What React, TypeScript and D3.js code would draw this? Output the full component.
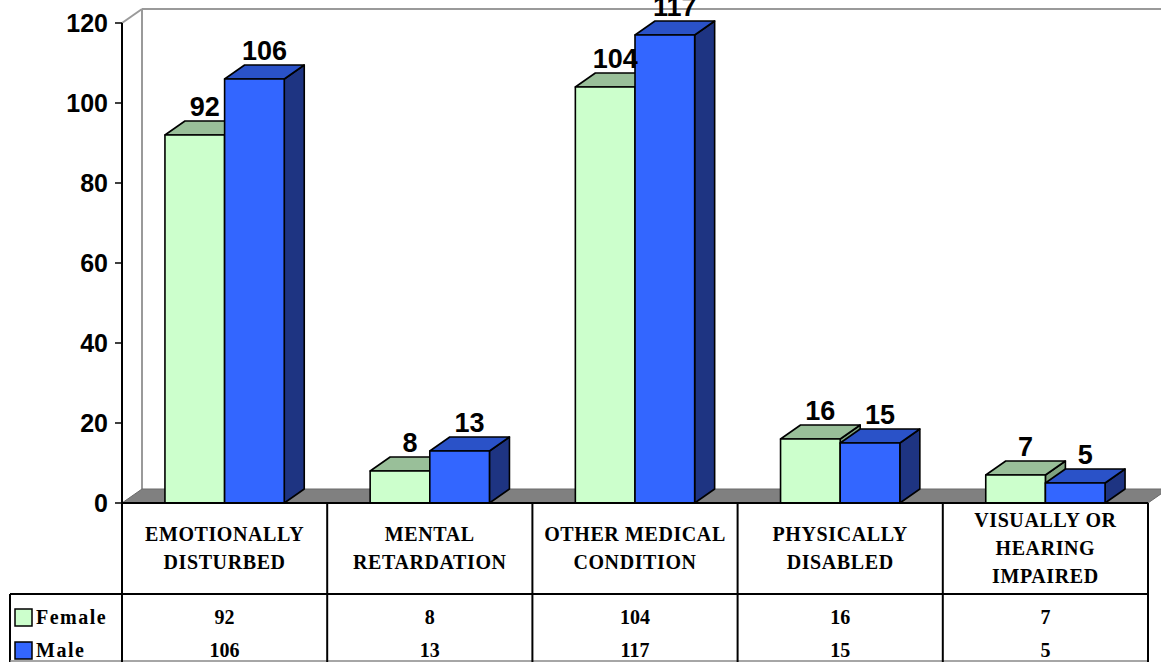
import React from "react";
import * as d3 from "d3";

const categories = [
  ["EMOTIONALLY", "DISTURBED"],
  ["MENTAL", "RETARDATION"],
  ["OTHER MEDICAL", "CONDITION"],
  ["PHYSICALLY", "DISABLED"],
  ["VISUALLY OR", "HEARING", "IMPAIRED"],
];
const seriesNames = ["Female", "Male"];
const female = [92, 8, 104, 16, 7];
const male = [106, 13, 117, 15, 5];
const yTicks = [0, 20, 40, 60, 80, 100, 120];

const colors = {
  Female: { front: "#CCFFCC", top: "#99BF99", side: "#7FA37F" },
  Male: { front: "#3366FF", top: "#2A52C8", side: "#1E3482" },
};

const W = 1161;
const H = 662;
const X0 = 122;
const X1 = 1148;
const Y0 = 503;
const YTOP = 23;
const DX = 20;
const DY = -14;

export default function App() {
  const catIdx = categories.map((_, i) => String(i));
  const x = d3.scaleBand<string>().domain(catIdx).range([X0, X1]);
  const xs = d3
    .scaleBand<string>()
    .domain(seriesNames)
    .range([0, x.bandwidth()])
    .paddingInner(0)
    .paddingOuter(0.72);
  const y = d3.scaleLinear().domain([0, 120]).range([Y0, YTOP]);
  const values: Record<string, number[]> = { Female: female, Male: male };

  const bars: React.ReactNode[] = [];
  const labels: React.ReactNode[] = [];
  catIdx.forEach((c, i) => {
    seriesNames.forEach((s) => {
      const v = values[s][i];
      const bx = (x(c) as number) + (xs(s) as number);
      const bw = xs.bandwidth();
      const yt = y(v);
      const col = (colors as any)[s];
      const front = `M${bx},${Y0}L${bx},${yt}L${bx + bw},${yt}L${bx + bw},${Y0}Z`;
      const top = `M${bx},${yt}L${bx + DX},${yt + DY}L${bx + bw + DX},${yt + DY}L${bx + bw},${yt}Z`;
      const side = `M${bx + bw},${Y0}L${bx + bw},${yt}L${bx + bw + DX},${yt + DY}L${bx + bw + DX},${Y0 + DY}Z`;
      bars.push(
        <g key={`b-${i}-${s}`} stroke="#000" strokeWidth={1.6} strokeLinejoin="round">
          <path d={side} fill={col.side} />
          <path d={top} fill={col.top} />
          <path d={front} fill={col.front} />
        </g>
      );
      labels.push(
        <text
          key={`l-${i}-${s}`}
          x={bx + bw / 2 + DX / 2}
          y={yt + DY - 5}
          textAnchor="middle"
          fontFamily="'Liberation Sans', Arial, sans-serif"
          fontWeight="bold"
          fontSize={27}
          fill="#000"
        >
          {v}
        </text>
      );
    });
  });

  const serif = "'Liberation Serif', 'Times New Roman', serif";
  const rowY = [617, 650];

  return (
    <svg
      width={W}
      height={H}
      style={{ position: "absolute", left: 0, top: 0, background: "#fff" }}
    >
      {/* back wall */}
      <g stroke="#9a9a9a" strokeWidth={2} fill="none">
        <line x1={X0 + DX} y1={YTOP + DY} x2={X0 + DX} y2={Y0 + DY} />
        <line x1={X0 + DX} y1={YTOP + DY} x2={W + 10} y2={YTOP + DY} />
        <line x1={X0} y1={YTOP} x2={X0 + DX} y2={YTOP + DY} />
      </g>
      {/* floor */}
      <path
        d={`M${X0},${Y0}L${X0 + DX},${Y0 + DY}L${X1 + DX},${Y0 + DY}L${X1},${Y0}Z`}
        fill="#808080"
        stroke="#6a6a6a"
        strokeWidth={1}
      />
      {bars}
      {labels}
      {/* y axis */}
      <line x1={X0} y1={YTOP} x2={X0} y2={Y0} stroke="#000" strokeWidth={2} />
      {yTicks.map((t) => (
        <g key={`t-${t}`}>
          <line x1={X0 - 7} x2={X0} y1={y(t)} y2={y(t)} stroke="#000" strokeWidth={1.5} />
          <text
            x={108}
            y={y(t)}
            dy="0.36em"
            textAnchor="end"
            fontFamily="'Liberation Sans', Arial, sans-serif"
            fontWeight="bold"
            fontSize={25}
          >
            {t}
          </text>
        </g>
      ))}
      {/* data table */}
      <g stroke="#000" strokeWidth={2}>
        <line x1={X0} y1={Y0} x2={X1} y2={Y0} />
        <line x1={10} y1={594} x2={X1} y2={594} />
        <line x1={10} y1={594} x2={10} y2={H} />
        <line x1={10} y1={661} x2={X1} y2={661} stroke="#888" strokeWidth={1.5} />
        {d3.range(categories.length + 1).map((k) => {
          const xx = X0 + k * x.step();
          return <line key={`v-${k}`} x1={xx} y1={Y0} x2={xx} y2={H} />;
        })}
      </g>
      {categories.map((lines, i) => {
        const cx = (x(String(i)) as number) + x.bandwidth() / 2;
        const lh = 28;
        const startY = 548 - ((lines.length - 1) * lh) / 2;
        return (
          <text
            key={`c-${i}`}
            textAnchor="middle"
            fontFamily={serif}
            fontWeight="bold"
            fontSize={20}
            letterSpacing={0.6}
          >
            {lines.map((ln, j) => (
              <tspan key={j} x={cx} y={startY + j * lh} dy="0.35em">
                {ln}
              </tspan>
            ))}
          </text>
        );
      })}
      {seriesNames.map((s, r) => (
        <g key={`row-${s}`}>
          <rect
            x={15}
            y={rowY[r] - 8}
            width={17}
            height={17}
            fill={(colors as any)[s].front}
            stroke="#000"
            strokeWidth={1.5}
          />
          <text
            x={36}
            y={rowY[r]}
            dy="0.35em"
            fontFamily={serif}
            fontWeight="bold"
            fontSize={20}
            letterSpacing={1.5}
          >
            {s}
          </text>
          {values[s].map((v, i) => (
            <text
              key={`rv-${i}`}
              x={(x(String(i)) as number) + x.bandwidth() / 2}
              y={rowY[r]}
              dy="0.35em"
              textAnchor="middle"
              fontFamily={serif}
              fontWeight="bold"
              fontSize={20}
            >
              {v}
            </text>
          ))}
        </g>
      ))}
    </svg>
  );
}
